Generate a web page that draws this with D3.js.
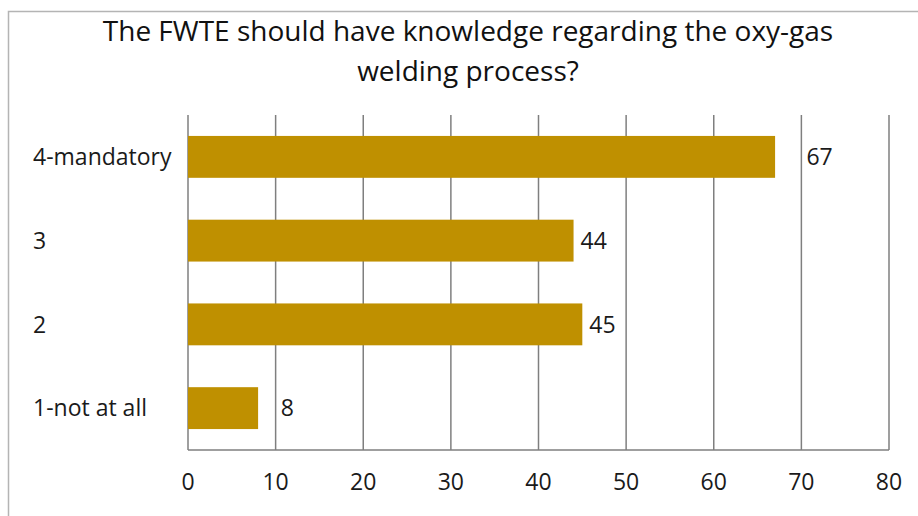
<!DOCTYPE html>
<html>
<head>
<meta charset="utf-8">
<script src="https://cdn.jsdelivr.net/npm/d3@7"></script>
<style>
  body { margin: 0; background: #fff; }
  svg { display: block; font-family: 'Open Sans', sans-serif; }
</style>
</head>
<body>
<script>
// data
var categories = ['4-mandatory', '3', '2', '1-not at all'];
var values = [67, 44, 45, 8];
var xTicks = [0, 10, 20, 30, 40, 50, 60, 70, 80];
var titleLines = ['The FWTE should have knowledge regarding the oxy-gas',
                  'welding process?'];

var w = 918,
    h = 516;
var margin = {top: 115, right: 29, bottom: 66, left: 188};

var svg = d3.select('body')
            .append('svg')
            .attr('width', w)
            .attr('height', h);

// chart frame
svg.append('rect')
   .attr('x', 8.5)
   .attr('y', 11.5)
   .attr('width', w + 20)
   .attr('height', h + 20)
   .attr('fill', 'none')
   .attr('stroke', '#b4b4b4')
   .attr('stroke-width', 1.5);

// title
svg.selectAll('text.title')
   .data(titleLines)
   .enter()
   .append('text')
   .attr('class', 'title')
   .attr('x', 468)
   .attr('y', function(d, i) { return 41 + i * 39.5; })
   .attr('text-anchor', 'middle')
   .attr('font-size', '28px')
   .attr('fill', '#111')
   .text(function(d) { return d; });

var xScale = d3.scaleLinear()
               .domain([0, 80])
               .range([margin.left, w - margin.right]);

var yScale = d3.scaleBand()
               .domain(categories)
               .range([margin.top, h - margin.bottom])
               .paddingInner(0.5)
               .paddingOuter(0.25);

// vertical gridlines
svg.selectAll('line.grid')
   .data(xTicks)
   .enter()
   .append('line')
   .attr('class', 'grid')
   .attr('x1', function(d) { return xScale(d); })
   .attr('x2', function(d) { return xScale(d); })
   .attr('y1', margin.top)
   .attr('y2', h - margin.bottom)
   .attr('stroke', '#7f7f7f')
   .attr('stroke-width', 1.5);

// bottom axis line
svg.append('line')
   .attr('x1', xScale(0))
   .attr('x2', xScale(80))
   .attr('y1', h - margin.bottom)
   .attr('y2', h - margin.bottom)
   .attr('stroke', '#7f7f7f')
   .attr('stroke-width', 1.5);

// tick labels
svg.selectAll('text.tick')
   .data(xTicks)
   .enter()
   .append('text')
   .attr('class', 'tick')
   .attr('x', function(d) { return xScale(d); })
   .attr('y', 490)
   .attr('text-anchor', 'middle')
   .attr('font-size', '23px')
   .attr('fill', '#1a1a1a')
   .text(function(d) { return d; });

// category labels
svg.selectAll('text.cat')
   .data(categories)
   .enter()
   .append('text')
   .attr('class', 'cat')
   .attr('x', 33)
   .attr('y', function(d) { return yScale(d) + yScale.bandwidth() / 2; })
   .attr('dy', '0.36em')
   .attr('font-size', '23px')
   .attr('fill', '#1a1a1a')
   .text(function(d) { return d; });

// bars
svg.selectAll('rect.bar')
   .data(values)
   .enter()
   .append('rect')
   .attr('class', 'bar')
   .attr('x', xScale(0))
   .attr('y', function(d, i) { return yScale(categories[i]); })
   .attr('width', function(d) { return xScale(d) - xScale(0); })
   .attr('height', yScale.bandwidth())
   .attr('fill', '#bf9000');

// value labels, nudged past a gridline if they would sit on it
var labels = svg.selectAll('text.val')
   .data(values)
   .enter()
   .append('text')
   .attr('class', 'val')
   .attr('y', function(d, i) {
      return yScale(categories[i]) + yScale.bandwidth() / 2;
   })
   .attr('dy', '0.36em')
   .attr('font-size', '23px')
   .attr('fill', '#1a1a1a')
   .text(function(d) { return d; });

labels.attr('x', function(d) {
   var x = xScale(d) + 7;
   var tw = this.getComputedTextLength();
   xTicks.forEach(function(t) {
      var gx = xScale(t);
      if (gx > x - 2 && gx < x + tw + 2) x = gx + 5;
   });
   return x;
});
</script>
</body>
</html>
